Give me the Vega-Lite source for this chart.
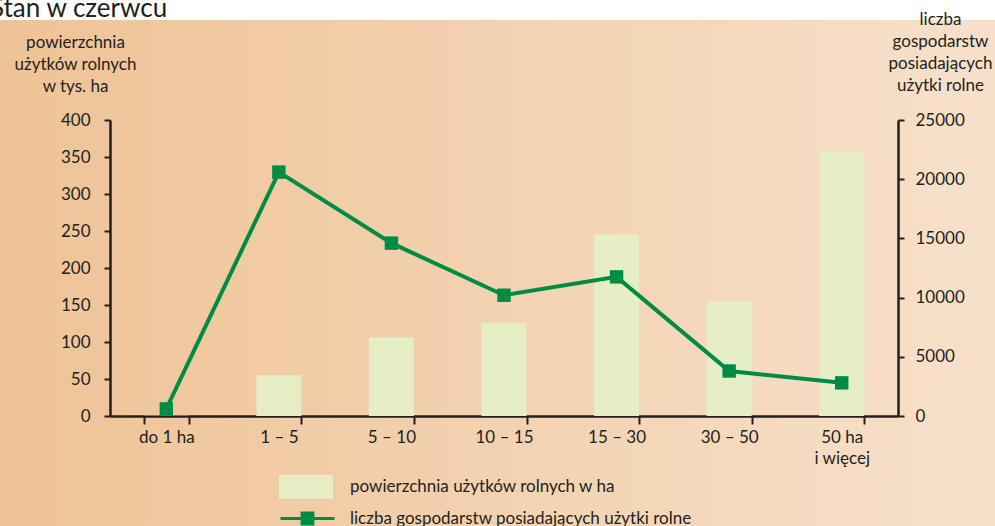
{
  "$schema": "https://vega.github.io/schema/vega-lite/v6.json",
  "width": 995,
  "height": 506,
  "autosize": "none",
  "padding": {"left": 0, "top": 20, "right": 0, "bottom": 0},
  "background": "#FFFFFF",
  "title": {
    "text": "Stan w czerwcu",
    "anchor": "start",
    "frame": "group",
    "orient": "top",
    "offset": 5,
    "baseline": "alphabetic",
    "dx": -10,
    "dy": 38,
    "font": "Lato",
    "fontSize": 26,
    "fontWeight": "normal",
    "color": "#231F20"
  },
  "data": {
    "values": [
      {"kategoria": "do 1 ha", "powierzchnia": 0.3, "gospodarstwa": 600},
      {"kategoria": "1 – 5", "powierzchnia": 55, "gospodarstwa": 20600},
      {"kategoria": "5 – 10", "powierzchnia": 106, "gospodarstwa": 14600},
      {"kategoria": "10 – 15", "powierzchnia": 126, "gospodarstwa": 10200},
      {"kategoria": "15 – 30", "powierzchnia": 245, "gospodarstwa": 11750},
      {"kategoria": "30 – 50", "powierzchnia": 155, "gospodarstwa": 3800},
      {"kategoria": "50 ha i więcej", "powierzchnia": 358, "gospodarstwa": 2800}
    ]
  },
  "encoding": {
    "x": {
      "field": "kategoria",
      "type": "nominal",
      "sort": null,
      "scale": {"range": [110, 898], "paddingInner": 0.6, "paddingOuter": 0.3},
      "axis": {
        "title": null,
        "orient": "bottom",
        "offset": -110,
        "labelAngle": 0,
        "tickBand": "extent",
        "tickSize": 8,
        "labelPadding": 5,
        "labelLineHeight": 21,
        "labelExpr": "datum.value == '50 ha i więcej' ? ['50 ha', 'i więcej'] : datum.value"
      }
    }
  },
  "layer": [
    {
      "mark": {"type": "bar"},
      "encoding": {
        "y": {
          "field": "powierzchnia",
          "type": "quantitative",
          "scale": {"domain": [0, 400], "range": [396, 100], "nice": false},
          "axis": {
            "orient": "left",
            "offset": -110,
            "values": [0, 50, 100, 150, 200, 250, 300, 350, 400],
            "title": ["powierzchnia", "użytków rolnych", "w tys. ha"],
            "titleAngle": 0,
            "titleAlign": "center",
            "titleBaseline": "alphabetic",
            "titleX": -35,
            "titleY": 27,
            "tickSize": 6,
            "labelPadding": 14
          }
        },
        "fill": {
          "datum": "powierzchnia użytków rolnych w ha",
          "type": "nominal",
          "scale": {"range": ["#E5EEC4"]},
          "legend": {
            "orient": "none",
            "legendX": 279,
            "legendY": 440,
            "title": null,
            "symbolType": "M-1,-0.444H1V0.444H-1Z",
            "symbolSize": 2916,
            "symbolStrokeWidth": 0,
            "labelOffset": 17,
            "labelLimit": 600
          }
        }
      }
    },
    {
      "mark": {"type": "line", "strokeWidth": 4},
      "encoding": {
        "y": {
          "field": "gospodarstwa",
          "type": "quantitative",
          "scale": {"domain": [0, 25000], "range": [396, 100], "nice": false},
          "axis": {
            "orient": "right",
            "offset": -97,
            "values": [0, 5000, 10000, 15000, 20000, 25000],
            "format": "d",
            "title": ["liczba", "gospodarstw", "posiadających", "użytki rolne"],
            "titleAngle": 0,
            "titleAlign": "center",
            "titleBaseline": "alphabetic",
            "titleX": 42,
            "titleY": 4,
            "tickSize": 6,
            "labelPadding": 11
          }
        },
        "stroke": {
          "datum": "liczba gospodarstw posiadających użytki rolne",
          "type": "nominal",
          "scale": {"range": ["#008C45"]},
          "legend": {
            "orient": "none",
            "legendX": 279,
            "legendY": 470,
            "title": null,
            "symbolType": "M-1,0H1M-0.2,-0.2H0.2V0.2H-0.2Z",
            "symbolSize": 2916,
            "symbolStrokeWidth": 3,
            "symbolFillColor": "#008C45",
            "labelOffset": 14,
            "labelLimit": 600
          }
        }
      }
    },
    {
      "mark": {"type": "square", "size": 180, "fill": "#008C45", "opacity": 1},
      "encoding": {
        "y": {"field": "gospodarstwa", "type": "quantitative", "scale": {"domain": [0, 25000], "range": [396, 100], "nice": false}, "axis": null}
      }
    }
  ],
  "resolve": {"scale": {"y": "independent"}},
  "config": {
    "view": {
      "stroke": null,
      "fill": {
        "gradient": "linear",
        "x1": 0, "y1": 0, "x2": 1, "y2": 0,
        "stops": [
          {"offset": 0, "color": "#EEC396"},
          {"offset": 1, "color": "#F7E1CB"}
        ]
      }
    },
    "font": "Lato",
    "axis": {
      "grid": false,
      "domainColor": "#231F20",
      "domainWidth": 2.5,
      "tickColor": "#231F20",
      "tickWidth": 2,
      "labelFont": "Lato",
      "labelFontSize": 17,
      "labelColor": "#231F20",
      "titleFont": "Lato",
      "titleFontSize": 17,
      "titleFontWeight": "normal",
      "titleColor": "#231F20",
      "titleLineHeight": 22
    },
    "legend": {
      "labelFont": "Lato",
      "labelFontSize": 17,
      "labelColor": "#231F20",
      "padding": 0,
      "rowPadding": 8
    }
  }
}
